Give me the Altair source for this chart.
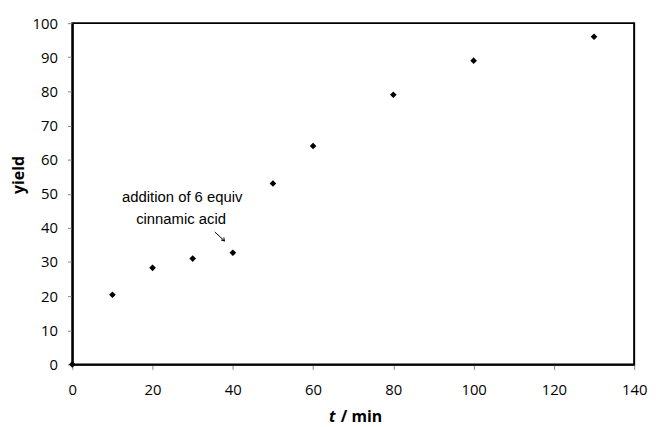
import altair as alt
import pandas as pd

t_min = [0, 10, 20, 30, 40, 50, 60, 80, 100, 130]
yield_pct = [0, 20.4, 28.3, 31.0, 32.7, 53.0, 64.0, 79.0, 89.0, 96.0]

note_lines = ["addition of 6 equiv", "cinnamic acid"]
note_x = [27.4, 27.1]
note_y = [49.0, 42.6]

arrow_x = [35.5]
arrow_y = [38.8]
arrow_x2 = [37.9]
arrow_y2 = [36.2]

x_ticks = [0, 20, 40, 60, 80, 100, 120, 140]
y_ticks = [0, 10, 20, 30, 40, 50, 60, 70, 80, 90, 100]

W, H = 568, 345
FONT = "Open Sans"

df = pd.DataFrame({"t": t_min, "y": yield_pct})
notes = pd.DataFrame({"x": note_x, "y": note_y, "label": note_lines})
arrow = pd.DataFrame({"x": arrow_x, "y": arrow_y, "x2": arrow_x2, "y2": arrow_y2})

xs = alt.Scale(domain=[0, 140], nice=False, zero=False)
ys = alt.Scale(domain=[0, 100], nice=False)

xaxis = alt.Axis(values=x_ticks, grid=False, title=None,
                 labelFont=FONT, labelFontSize=15, labelColor="black",
                 labelOverlap=False, labelFlush=False,
                 tickColor="#888", tickSize=5, labelPadding=13,
                 domainColor="black", domainWidth=2)
yaxis = alt.Axis(values=y_ticks, grid=False, title=None,
                 labelFont=FONT, labelFontSize=15, labelColor="black",
                 labelOverlap=False, labelFlush=False,
                 tickColor="#888", tickSize=5, labelPadding=10,
                 domainColor="black", domainWidth=2)


def X(f):
    return alt.X(f, scale=xs, axis=xaxis)


def Y(f):
    return alt.Y(f, scale=ys, axis=yaxis)


pts = alt.Chart(df).mark_point(shape="diamond", filled=True, color="black",
                               size=45, opacity=1).encode(
    x=X("t:Q"), y=Y("y:Q"))

txt = alt.Chart(notes).mark_text(font="Liberation Sans", fontSize=15,
                                 color="black", align="center",
                                 baseline="middle").encode(
    x=X("x:Q"), y=Y("y:Q"), text="label:N")

arr_line = alt.Chart(arrow).mark_rule(color="black", strokeWidth=1).encode(
    x=X("x:Q"), y=Y("y:Q"), x2="x2:Q", y2="y2:Q")

arr_head = alt.Chart(arrow).mark_point(
    shape="M -0.6 0.9 L 0 0 L 0.6 0.9", filled=False, color="black",
    strokeWidth=1, size=40, angle=137, opacity=1).encode(
    x=X("x2:Q"), y=Y("y2:Q"))

xtitle = pd.DataFrame({"x": [65.6, 66.9], "label": ["t", "/ min"]})
xt1 = alt.Chart(xtitle.iloc[[0]]).mark_text(
    font=FONT, fontSize=16, fontWeight="bold", fontStyle="italic",
    color="black", align="right", baseline="middle").encode(
    x=X("x:Q"), y=alt.value(H + 53), text="label:N")
xt2 = alt.Chart(xtitle.iloc[[1]]).mark_text(
    font=FONT, fontSize=16, fontWeight="bold",
    color="black", align="left", baseline="middle").encode(
    x=X("x:Q"), y=alt.value(H + 53), text="label:N")

ytitle = pd.DataFrame({"y": [55.5], "label": ["yield"]})
yt = alt.Chart(ytitle).mark_text(
    font=FONT, fontSize=16, fontWeight="bold", angle=270,
    color="black", align="center", baseline="middle").encode(
    x=alt.value(-54), y=Y("y:Q"), text="label:N")

chart = alt.layer(pts, txt, arr_line, arr_head, xt1, xt2, yt).properties(
    width=W, height=H,
    autosize=alt.AutoSizeParams(type="none"),
    padding={"left": 65, "top": 13, "right": 14, "bottom": 60},
).configure(
    background="white",
    view=alt.ViewConfig(stroke="black", strokeWidth=2),
)

chart.save("out.html", embed_options={"renderer": "svg", "actions": False})
